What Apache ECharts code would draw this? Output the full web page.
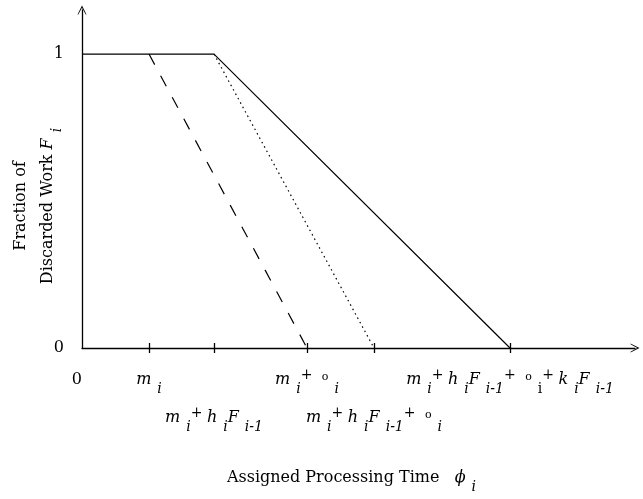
<!DOCTYPE html>
<html>
<head>
<meta charset="utf-8">
<script src="https://cdn.jsdelivr.net/npm/echarts@6/dist/echarts.min.js"></script>
<style>
  html, body { margin: 0; padding: 0; background: #fff; }
  #chart { width: 643px; height: 499px; }
</style>
</head>
<body>
<div id="chart"></div>
<script>
// x positions of the marked times (arbitrary time units)
const tickValues = [67, 132, 225, 292, 428]
const labelValues = [0, 67, 132, 225, 292, 428]
const labelRow1 = ['0', 'm_i', '', 'm_i+o_i', '', 'm_i+h_iF_{i-1}+o_I+k_iF_{i-1}']
const labelRow2 = ['', '', 'm_i+h_iF_{i-1}', '', 'm_i+h_iF_{i-1}+o_i', '']
const yLabels = [0, 1]

// three curves: solid, dashed, dotted
const solidX = [0, 132, 428]
const solidY = [1, 1, 0]
const dashedX = [67, 225]
const dashedY = [1, 0]
const dottedX = [132, 292]
const dottedY = [1, 0]

const font = 'DejaVu Serif'
const rich = {
  v: { fontFamily: font, fontStyle: 'italic', fontSize: 16, color: '#000' },
  s: { fontFamily: font, fontStyle: 'italic', fontSize: 14, color: '#000', padding: [19, 0, 0, 6] },
  r: { fontFamily: font, fontSize: 14, color: '#000', padding: [19, 0, 0, 6] },
  p: { fontFamily: font, fontSize: 14, color: '#000', padding: [0, 0, 8, 0] },
  o: { fontFamily: font, fontSize: 11, color: '#000', padding: [0, 0, 4, 5] },
  n: { fontFamily: font, fontSize: 16, color: '#000' }
}

// 'm_i+h_iF_{i-1}' -> rich text tokens (sub I = upright i)
function toRich(t) {
  if (t === '') return ''
  if (t === '0') return '{n|0}{s| }'
  let out = ''
  let i = 0
  while (i < t.length) {
    const c = t[i]
    if (c === '_') {
      let sub
      if (t[i + 1] === '{') {
        const j = t.indexOf('}', i)
        sub = t.slice(i + 2, j)
        i = j + 1
      } else {
        sub = t[i + 1]
        i += 2
      }
      out += sub === 'I' ? '{r|i}' : '{s|' + sub + '}'
    } else {
      if (c === '+') out += '{p|+ }'
      else if (c === 'o') out += '{o|o}'
      else out += '{v|' + c + '}'
      i++
    }
  }
  return out
}

const pair = (xs, ys) => xs.map((x, i) => [x, ys[i]])
const labelAt = arr => v => {
  const i = labelValues.indexOf(v)
  return i >= 0 ? toRich(arr[i]) : ''
}

const chart = echarts.init(document.getElementById('chart'))

const arrow = 'path://M0,0 L6,12 L5,12 L0,3 L-5,12 L-6,12 Z'

chart.setOption({
  backgroundColor: '#fff',
  animation: false,
  grid: { left: 82, right: 8, top: 10, bottom: 151, containLabel: false, outerBoundsMode: 'none' },
  xAxis: [
    {
      type: 'value',
      min: 0,
      max: 553,
      position: 'bottom',
      splitLine: { show: false },
      axisLine: {
        onZero: false,
        symbol: ['none', arrow],
        symbolSize: [9, 12],
        lineStyle: { color: '#000', width: 1.3 }
      },
      axisTick: {
        customValues: tickValues,
        length: 5,
        lineStyle: { color: '#000', width: 1.3 }
      },
      axisLabel: {
        customValues: labelValues,
        margin: 15,
        formatter: labelAt(labelRow1),
        rich
      },
      name: 'Assigned Processing Time   {v|ϕ}{s|i}',
      nameLocation: 'middle',
      nameGap: 113,
      nameMoveOverlap: false,
      nameTextStyle: { fontFamily: font, fontSize: 16, color: '#000', padding: [0, 14, 0, 0], rich }
    },
    {
      type: 'value',
      min: 0,
      max: 553,
      position: 'bottom',
      splitLine: { show: false },
      axisLine: { show: false, onZero: false },
      axisTick: {
        show: true,
        inside: true,
        customValues: tickValues,
        length: 5,
        lineStyle: { color: '#000', width: 1.3 }
      },
      axisLabel: {
        customValues: labelValues,
        margin: 53,
        formatter: labelAt(labelRow2),
        rich
      }
    }
  ],
  yAxis: {
    type: 'value',
    min: 0,
    max: 1.15,
    splitLine: { show: false },
    axisLine: {
      onZero: false,
      symbol: ['none', arrow],
      symbolSize: [9, 12],
      lineStyle: { color: '#000', width: 1.3 }
    },
    axisTick: { show: false },
    axisLabel: {
      customValues: yLabels,
      margin: 18,
      fontFamily: font,
      fontSize: 16,
      color: '#000'
    },
    name: 'Fraction of\nDiscarded Work {v|F}{s|i}',
    nameLocation: 'middle',
    nameRotate: 90,
    nameGap: 21,
    nameMoveOverlap: false,
    nameTextStyle: {
      fontFamily: font, fontSize: 16, color: '#000', lineHeight: 27,
      align: 'center', padding: [0, 54, 0, 0], rich
    }
  },
  series: [
    {
      type: 'line',
      data: pair(solidX, solidY),
      symbol: 'none',
      lineStyle: { color: '#000', width: 1.2, type: 'solid' }
    },
    {
      type: 'line',
      data: pair(dashedX, dashedY),
      symbol: 'none',
      lineStyle: { color: '#000', width: 1.2, type: [12, 12.5] }
    },
    {
      type: 'line',
      data: pair(dottedX, dottedY),
      symbol: 'none',
      lineStyle: { color: '#000', width: 1.2, type: [1.5, 3.5] }
    }
  ]
})
</script>
</body>
</html>
